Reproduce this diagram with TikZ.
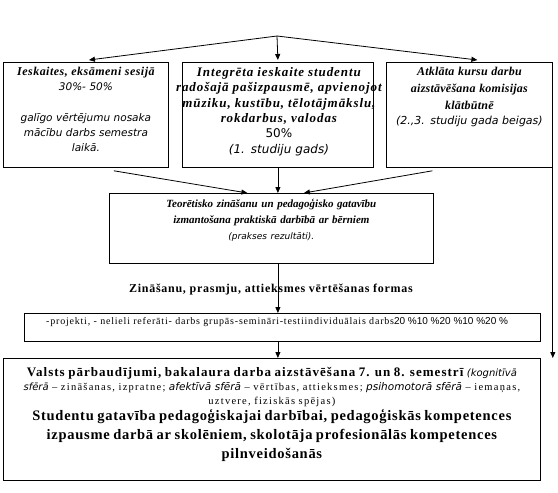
\documentclass[tikz,border=0pt]{standalone}
\usepackage{fontspec}
\setmainfont{Liberation Serif}
\newfontfamily\sansf{DejaVu Sans}
\newfontfamily\arialf{Liberation Sans}
\usetikzlibrary{arrows.meta,calc}
\newcommand{\bi}{\bfseries\itshape}
\newcommand{\si}{\sansf\itshape}
\newcommand{\fsz}[2]{\fontsize{#1}{#2}\selectfont}
\newcommand{\ls}[1]{\addfontfeature{LetterSpace=#1}}
\begin{document}
\begin{tikzpicture}[x=1pt,y=-1pt,
  box/.style={draw, line width=0.8pt, rectangle, inner sep=0pt, anchor=north west},
  conn/.style={line width=0.8pt},
  arr/.style={conn,-{Triangle[length=6pt,width=5pt]}},
  txt/.style={anchor=north, align=center, inner sep=0pt}]
\useasboundingbox (0,0) rectangle (558,493);
\fill[white] (0,0) rectangle (558,493);

% boxes
\node[box, minimum width=165pt, minimum height=105pt] (lb) at (3,62) {};
\node[box, minimum width=191pt, minimum height=105pt] (mb) at (182,62) {};
\node[box, minimum width=166pt, minimum height=105pt] (rb) at (386,62) {};
\node[box, minimum width=324pt, minimum height=70pt] (tb) at (109,193) {};
\node[box, minimum width=516pt, minimum height=28pt] (pb) at (24,313) {};
\node[box, minimum width=537pt, minimum height=122pt] (fb) at (3,358) {};

% texts
\node[txt, text width=165pt, font=\fsz{10.5}{15}] (lt) at ($(lb.north)+(0,5)$)
  {{\bi\fsz{12}{15}\ls{4}Ieskaites, eksāmeni sesijā}\\
   {\si 30\%- 50\%}\\[16pt]
   {\si galīgo vērtējumu nosaka\\ mācību darbs semestra\\ laikā.}};
\node[txt, text width=215pt, font=\fsz{12}{15.4}] (mt) at ($(mb.north)+(1,5)$)
  {{\bi\fsz{13}{15.4}\ls{7}Integrēta ieskaite studentu\\
    radošajā pašizpausmē, apvienojot\\
    mūziku, kustību, tēlotājmākslu,\\
    rokdarbus, valodas}\\
   {\sansf 50\%}\\
   {\si (1. studiju gads)}};
\node[txt, text width=166pt, font=\fsz{11}{17}] (rt) at ($(rb.north)+(0,5)$)
  {{\bi\fsz{12}{17}\ls{2}Atklāta kursu darbu\\ aizstāvēšana komisijas\\ klātbūtnē}\\[-2pt]
   {\si (2.,3. studiju gada beigas)}};
\node[txt, text width=324pt, font=\fsz{11}{16}] (tt) at ($(tb.north)+(0,6)$)
  {{\bi Teorētisko zināšanu un pedagoģisko gatavību\\
    izmantošana praktiskā darbībā ar bērniem}\\
   {\si\fsz{9}{16}(prakses rezultāti).}};
\node[font=\bfseries\fsz{12}{14}\ls{6}, inner sep=0pt] (hd) at (271,290)
  {Zināšanu, prasmju, attieksmes vērtēšanas formas};
\node[anchor=west, inner sep=0pt, font=\fsz{10}{12}\ls{8}] (pt) at ($(pb.west)+(22,-5)$)
  {-projekti, - nelieli referāti- darbs grupās-semināri-testiindividuālais darbs{\arialf\fsz{10}{12}20 \%10 \%20 \%10 \%20 \%}};
\node[txt, text width=537pt, font=\fsz{10.5}{14}] (ft) at ($(fb.north)+(0,9)$)
  {{\fsz{13}{14}\bfseries\ls{8}Valsts pārbaudījumi, bakalaura darba aizstāvēšana 7. un 8. semestrī}
   {\si\fsz{10}{14}(kognitīvā\\ sfērā} {\ls{12}– zināšanas, izpratne;} {\si afektīvā sfērā} {\ls{12}– vērtības, attieksmes;}
   {\si psihomotorā sfērā} {\ls{12}– iemaņas,\\ uztvere, fiziskās spējas)}\par\vspace{-3pt}
   {\fsz{14.5}{19}\bfseries\ls{5}Studentu gatavība pedagoģiskajai darbībai, pedagoģiskās kompetences\\
    izpausme darbā ar skolēniem, skolotāja profesionālās kompetences\\
    pilnveidošanās\par}};

% connectors
\coordinate (apex) at (277,36);
\draw[arr] (apex) -- ($(lb.north)+(3,-2)$);
\draw[arr] (apex) -- ($(mb.north)+(0,-2)$);
\draw[arr] (apex) -- ($(rb.north)+(8,-2)$);
\draw[arr] ($(lb.south)+(28,3)$) -- ($(tb.north west)!0.426!(tb.north east)$);
\draw[arr] (mb.south) -- (mb.south |- tb.north);
\draw[arr] ($(rb.south)+(-37,3)$) -- ($(tb.north west)!0.6!(tb.north east)$);
\draw[arr] (rb.south east) -- (rb.south east |- fb.north);
\draw[arr] (tb.south -| mb.south) -- (pb.north -| mb.south);
\draw[arr] (pb.south -| mb.south) -- (fb.north -| mb.south);
\end{tikzpicture}
\end{document}
